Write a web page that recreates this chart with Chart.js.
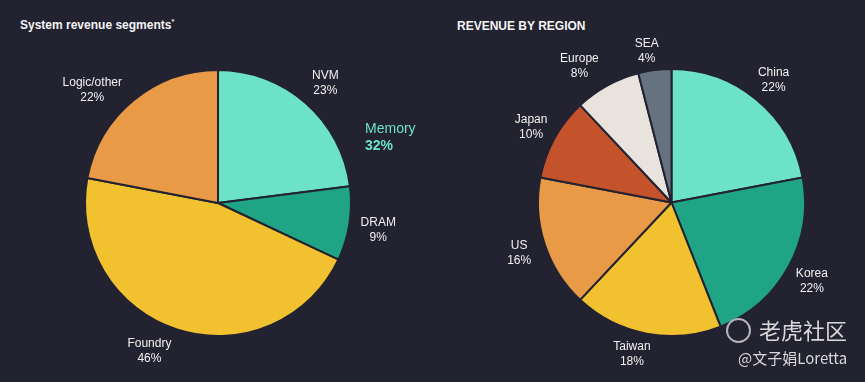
<!DOCTYPE html>
<html>
<head>
<meta charset="utf-8">
<script src="https://cdn.jsdelivr.net/npm/chart.js@4"></script>
<style>
  html, body { margin: 0; padding: 0; background: #222231; }
  #wrap { position: relative; width: 865px; height: 382px; overflow: hidden; background: #222231; }
  .title { position: absolute; color: #f4f4f4; font: bold 12px "Liberation Sans", Arial, sans-serif; }
  #c1 { position: absolute; left: 0; top: 0; }
  #c2 { position: absolute; left: 432px; top: 0; }
  .wm { position: absolute; color: #d9d9dc; font-family: "Noto Sans CJK SC", sans-serif; }
  .wm-icon { position: absolute; left: 726px; top: 318px; width: 21px; height: 21px; border: 2px solid #d0d0d4; border-radius: 50%; opacity: 0.85; }
</style>
</head>
<body>
<div id="wrap">
  <div class="title" style="left:20px; top:18px;">System revenue segments<sup style="font-size:7px">*</sup></div>
  <div class="title" style="left:457px; top:19px;">REVENUE BY REGION</div>
  <canvas id="c1" width="432" height="382"></canvas>
  <canvas id="c2" width="433" height="382"></canvas>
  <div class="wm-icon"></div>
  <div class="wm" style="left:759px; top:313px; font-size:22px;">老虎社区</div>
  <div class="wm" style="left:738px; top:347px; font-size:15px;">@文子娟Loretta</div>
</div>
<script>
// left chart: system revenue segments
var segLabels = ['NVM', 'DRAM', 'Foundry', 'Logic/other'];
var segValues = [23, 9, 46, 22];
var segColors = ['#6ce3c9', '#1fa585', '#f2c12f', '#e89a47'];

// right chart: revenue by region
var regLabels = ['China', 'Korea', 'Taiwan', 'US', 'Japan', 'Europe', 'SEA'];
var regValues = [22, 22, 18, 16, 10, 8, 4];
var regColors = ['#6ce3c9', '#1fa585', '#f2c12f', '#e89a47', '#c4522a', '#e8e4dd', '#667280'];

var BG = '#222231';

// outside labels: name + percent, placed on the slice's mid angle
var outsideLabels = {
    id: 'outsideLabels',
    afterDraw: function(chart) {
        var ctx = chart.ctx;
        var meta = chart.getDatasetMeta(0);
        var ds = chart.data.datasets[0];
        var opts = chart.options.plugins.outsideLabels;
        var k = opts.radiusFactor || 1.2;
        var nudge = opts.nudge || {};
        ctx.save();
        ctx.font = '12px "Liberation Sans", Arial, sans-serif';
        ctx.fillStyle = '#f2f2f2';
        ctx.textAlign = 'center';
        ctx.textBaseline = 'middle';
        meta.data.forEach(function(arc, i) {
            var p = arc.getProps(['x', 'y', 'startAngle', 'endAngle', 'outerRadius'], true);
            var n = nudge[i] || [0, 0];
            var mid = (p.startAngle + p.endAngle) / 2 + n[0] * Math.PI / 180;
            var r = p.outerRadius * (k + n[1]);
            var x = p.x + Math.cos(mid) * r;
            var y = p.y + Math.sin(mid) * r;
            ctx.fillText(chart.data.labels[i], x, y - 6);
            ctx.fillText(ds.data[i] + '%', x, y + 9);
        });

        // group annotation (memory = NVM + DRAM)
        var grp = opts.group;
        if (grp) {
            var a0 = meta.data[0].getProps(['x', 'y', 'outerRadius'], true);
            var total = 0;
            grp.members.forEach(function(m) { total += ds.data[m]; });
            var ang = (grp.angle - 90) * Math.PI / 180;
            var gx = a0.x + Math.cos(ang) * a0.outerRadius * grp.radiusFactor;
            var gy = a0.y + Math.sin(ang) * a0.outerRadius * grp.radiusFactor;
            ctx.textAlign = 'left';
            ctx.fillStyle = '#6ce3c9';
            ctx.font = '14px "Liberation Sans", Arial, sans-serif';
            ctx.fillText(grp.label, gx, gy - 8);
            ctx.font = 'bold 14px "Liberation Sans", Arial, sans-serif';
            ctx.fillText(total + '%', gx, gy + 9);
        }
        ctx.restore();
    }
};

function makePie(id, labels, values, colors, padding, labelOpts) {
    return new Chart(document.getElementById(id), {
        type: 'pie',
        data: {
            labels: labels,
            datasets: [{
                data: values,
                backgroundColor: colors,
                borderColor: BG,
                borderWidth: 2
            }]
        },
        options: {
            responsive: false,
            animation: false,
            layout: { padding: padding },
            plugins: {
                legend: { display: false },
                tooltip: { enabled: false },
                outsideLabels: labelOpts
            }
        },
        plugins: [outsideLabels]
    });
}

makePie('c1', segLabels, segValues, segColors,
    { left: 84, top: 69, right: 80, bottom: 45 },
    { radiusFactor: 1.22,
      nudge: { 2: [7, 0], 3: [-8, 0.06] },
      group: { label: 'Memory', members: [0, 1], angle: 66, radiusFactor: 1.21 } });

makePie('c2', regLabels, regValues, regColors,
    { left: 105, top: 68, right: 59, bottom: 45 },
    { radiusFactor: 1.2,
      nudge: { 2: [4, -0.04], 5: [-5, 0.04], 6: [-2, -0.04] } });
</script>
</body>
</html>
